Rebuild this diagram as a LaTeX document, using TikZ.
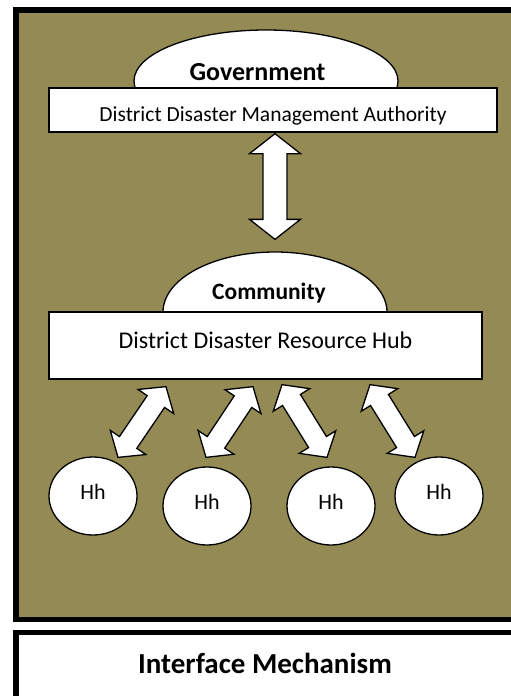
\documentclass[tikz,border=0pt]{standalone}
\usepackage{fontspec}
\setmainfont{Carlito}
\usetikzlibrary{calc, shapes.geometric}

\definecolor{olivebg}{RGB}{148,138,84}

% double headed block arrow: #1 from, #2 to, #3 head length,
% #4 half head width, #5 half shaft width
\newcommand{\blockarrow}[5]{%
  \coordinate (ba-s) at #1;
  \coordinate (ba-e) at #2;
  \coordinate (ba-hs) at ($(ba-s)!#3!(ba-e)$);
  \coordinate (ba-he) at ($(ba-e)!#3!(ba-s)$);
  \filldraw[arrowbody] (ba-s)
    -- ($(ba-hs)!#4!90:(ba-e)$) -- ($(ba-hs)!#5!90:(ba-e)$)
    -- ($(ba-he)!#5!-90:(ba-s)$) -- ($(ba-he)!#4!-90:(ba-s)$)
    -- (ba-e)
    -- ($(ba-he)!#4!90:(ba-s)$) -- ($(ba-he)!#5!90:(ba-s)$)
    -- ($(ba-hs)!#5!-90:(ba-e)$) -- ($(ba-hs)!#4!-90:(ba-e)$)
    -- cycle;
}

\begin{document}
\begin{tikzpicture}[
    x=1pt, y=-1pt,
    frame/.style={draw=black, line width=5.5pt},
    bubble/.style={ellipse, draw, fill=white, line width=1.3pt, inner sep=0pt},
    orgbox/.style={rectangle, draw, fill=white, line width=1.3pt, inner sep=0pt},
    hhnode/.style={ellipse, draw, fill=white, line width=1.3pt, inner sep=0pt,
        minimum width=88pt, minimum height=78pt, text height=16pt, text depth=10pt,
        font=\fontsize{22}{24}\selectfont},
    arrowbody/.style={draw=black, fill=white, line width=1.3pt, line join=miter}
]
\useasboundingbox (0,0) rectangle (511,696);
\fill[white] (0,0) rectangle (511,696);
\clip (0,0) rectangle (511,696);

% olive panel
\draw[frame, fill=olivebg] (16,10) rectangle (519,619.5);

% government level
\node[bubble, minimum width=264pt, minimum height=102pt, text height=18pt, text depth=20pt,
    font=\fontsize{26}{28}\selectfont\bfseries] (gov) at (266,81) {Government\kern17pt};
\node[orgbox, minimum width=448pt, minimum height=44pt, text height=22pt, text depth=0pt,
    font=\fontsize{21.5}{24}\selectfont] (ddma) at (273,110) {District Disaster Management Authority};

% community level
\node[bubble, minimum width=224pt, minimum height=120pt, text height=16pt, text depth=42pt,
    font=\fontsize{23.5}{26}\selectfont\bfseries] (comm) at (275,312) {Community\kern12pt};
\node[orgbox, minimum width=433pt, minimum height=67pt, text height=18pt, text depth=13pt,
    font=\fontsize{24}{27}\selectfont] (hub) at (265.5,345.5) {District Disaster Resource Hub};

\blockarrow{($(ddma.south)+(2,1)$)}{($(comm.north)+(0,-12)$)}{20pt}{25.5pt}{12pt}

% households
\node[hhnode] (hh1) at (93,496) {Hh};
\node[hhnode] (hh2) at (207,506) {Hh};
\node[hhnode] (hh3) at (331,506) {Hh};
\node[hhnode] (hh4) at (439,496) {Hh};

\blockarrow{($(hub.south)+(-99.5,7)$)}{($(hh1.north)+(25,1)$)}{18pt}{21.5pt}{10.5pt}
\blockarrow{($(hub.south)+(-12.5,7)$)}{($(hh2.north)+(-1,-9)$)}{18pt}{21.5pt}{10.5pt}
\blockarrow{($(hub.south)+(16.5,5)$)}{($(hh3.north)+(-4,-9)$)}{18pt}{21.5pt}{10.5pt}
\blockarrow{($(hub.south)+(104.5,5)$)}{($(hh4.north)+(-24,1)$)}{18pt}{21.5pt}{10.5pt}

% bottom caption box
\node[frame, fill=white, minimum width=503pt, minimum height=66pt, inner sep=0pt,
    text height=21pt, text depth=6pt, font=\fontsize{29}{32}\selectfont\bfseries]
    (iface) at (267.5,665.5) {Interface Mechanism\kern5pt};
\end{tikzpicture}
\end{document}
